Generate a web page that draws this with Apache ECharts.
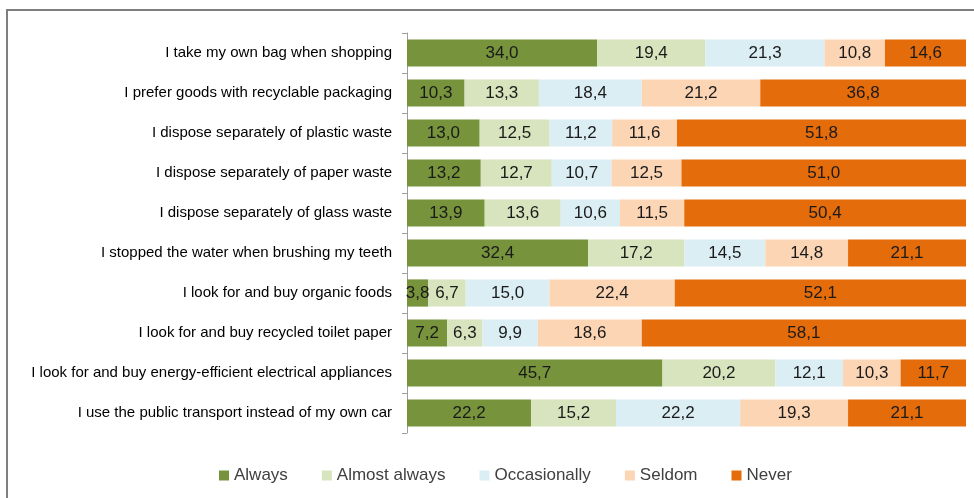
<!DOCTYPE html>
<html>
<head>
<meta charset="utf-8">
<script src="https://cdn.jsdelivr.net/npm/echarts@6/dist/echarts.min.js"></script>
<style>
  html, body { margin: 0; padding: 0; background: #fff; }
  #chart { width: 974px; height: 498px; }
</style>
</head>
<body>
<div id="chart"></div>
<script>
let categories = [
    'I take my own bag when shopping',
    'I prefer goods with recyclable packaging',
    'I dispose separately of plastic waste',
    'I dispose separately of paper waste',
    'I dispose separately of glass waste',
    'I stopped the water when brushing my teeth',
    'I look for and buy organic foods',
    'I look for and buy recycled toilet paper',
    'I look for and buy energy-efficient electrical appliances',
    'I use the public transport instead of my own car'
];
let seriesNames = ['Always', 'Almost always', 'Occasionally', 'Seldom', 'Never'];
let always       = [34.0, 10.3, 13.0, 13.2, 13.9, 32.4, 3.8, 7.2, 45.7, 22.2];
let almostAlways = [19.4, 13.3, 12.5, 12.7, 13.6, 17.2, 6.7, 6.3, 20.2, 15.2];
let occasionally = [21.3, 18.4, 11.2, 10.7, 10.6, 14.5, 15.0, 9.9, 12.1, 22.2];
let seldom       = [10.8, 21.2, 11.6, 12.5, 11.5, 14.8, 22.4, 18.6, 10.3, 19.3];
let never        = [14.6, 36.8, 51.8, 51.0, 50.4, 21.1, 52.1, 58.1, 11.7, 21.1];

let values = [always, almostAlways, occasionally, seldom, never];
let colors = ['#77933C', '#D7E4BD', '#DBEEF4', '#FCD5B5', '#E46C0A'];

let myChart = echarts.init(document.getElementById('chart'));
let option = {
    backgroundColor: '#ffffff',
    animation: false,
    color: colors,
    graphic: [{
        type: 'rect',
        shape: { x: 7, y: 10, width: 1000, height: 520 },
        style: { fill: 'none', stroke: '#7f7f7f', lineWidth: 2 },
        silent: true
    }],
    legend: {
        bottom: 9,
        left: 214,
        icon: 'rect',
        itemWidth: 10,
        itemHeight: 10,
        itemGap: 34,
        textStyle: { fontFamily: 'Liberation Sans', fontSize: 17, color: '#404040' },
        data: seriesNames
    },
    grid: { left: 407, right: 8, top: 33, bottom: 65 },
    xAxis: {
        type: 'value',
        min: 0,
        max: 100,
        show: false
    },
    yAxis: {
        type: 'category',
        inverse: true,
        data: categories,
        axisLine: { show: true, lineStyle: { color: '#9f9f9f' } },
        axisTick: { show: true, length: 5, lineStyle: { color: '#9f9f9f' } },
        axisLabel: {
            margin: 15,
            fontFamily: 'Liberation Sans',
            fontSize: 15,
            color: '#000'
        }
    },
    series: seriesNames.map(function (name, i) {
        return {
            name: name,
            type: 'bar',
            stack: 'total',
            barCategoryGap: '32%',
            data: values[i],
            label: {
                show: true,
                position: 'inside',
                fontFamily: 'Liberation Sans',
                fontSize: 17,
                color: '#1a1a1a',
                formatter: function (p) {
                    return p.value.toFixed(1).replace('.', ',');
                }
            }
        };
    })
};
myChart.setOption(option);
</script>
</body>
</html>
